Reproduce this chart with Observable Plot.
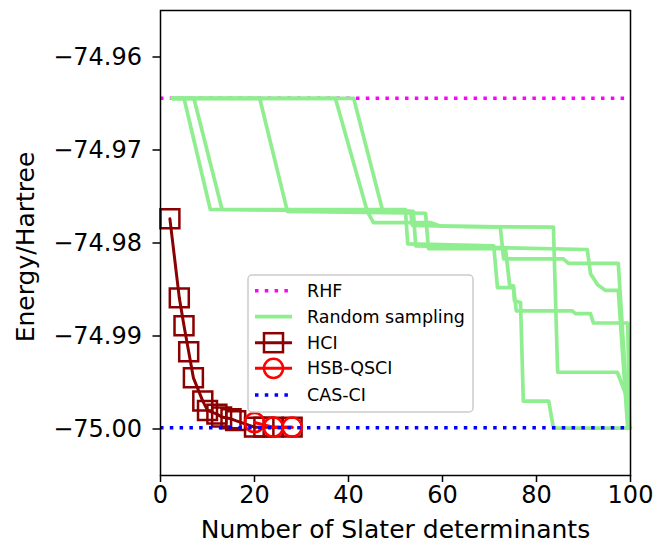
<!DOCTYPE html>
<html><head><meta charset="utf-8">
<script src="https://cdn.jsdelivr.net/npm/d3@7"></script>
<script src="https://cdn.jsdelivr.net/npm/@observablehq/plot@0.6"></script>
<style>
html,body{margin:0;padding:0;background:#fff;}
#chart svg{font-family:"DejaVu Sans",sans-serif;display:block;}
</style></head><body><div id="chart"></div>
<script>
// Reference energies
const RHF = -74.96444;
const CASCI = -74.99986;

// HCI
const hciX = [2, 4, 5, 6, 7, 9, 10, 12, 13, 15, 16, 20, 22, 24, 28];
const hciY = [-74.9774, -74.9859, -74.9889, -74.9917, -74.9945, -74.9970, -74.9980, -74.9984, -74.9987, -74.9989, -74.9991, -74.9998, -74.9998, -74.9998, -74.9998];

// HSB-QSCI
const qsciX = [20, 24, 28];
const qsciY = [-74.9993, -74.9998, -74.9998];

// Random sampling runs
const rs1X = [2.5, 5, 10.6, 52.1, 52.6, 70.9, 71.7, 75.1, 75.3, 76.6, 77.2, 82.6, 83.6, 100];
const rs1Y = [RHF, RHF, -74.9764, -74.9764, -74.9801, -74.9803, -74.9848, -74.9848, -74.9862, -74.9864, -74.9970, -74.9970, -74.9999, -74.9999];
const rs2X = [2.5, 7.1, 13.1, 53.8, 54.3, 90.8, 91.5, 93.0, 94.7, 97.4, 99.4];
const rs2Y = [RHF, RHF, -74.9764, -74.9766, -74.9803, -74.9807, -74.9833, -74.9845, -74.9851, -74.9851, -74.9999];
const rs3X = [2.5, 21.1, 27.0, 56.4, 57.0, 73.4, 74.3, 75.1, 75.7, 87.6, 88.3, 91.5, 92.1, 99.4, 99.8];
const rs3Y = [RHF, RHF, -74.9766, -74.9768, -74.9806, -74.9806, -74.9846, -74.9846, -74.9873, -74.9873, -74.9876, -74.9876, -74.9886, -74.9886, -74.9999];
const rs4X = [2.5, 37.2, 44.0, 45.3, 57.4, 59.6, 83.6, 84.5, 97.2, 99.4, 99.8];
const rs4Y = [RHF, RHF, -74.9766, -74.9778, -74.9778, -74.9782, -74.9783, -74.9939, -74.9939, -74.9968, -74.9999];
const rs5X = [2.5, 41.1, 47.2, 53.2, 53.6, 72.3, 73.0, 85.7, 86.8, 97.4, 99.6];
const rs5Y = [RHF, RHF, -74.9764, -74.9766, -74.9781, -74.9783, -74.9817, -74.9817, -74.9822, -74.9822, -74.9999];

// Axes
const xTicks = [0, 20, 40, 60, 80, 100];
const yTicks = [-75.00, -74.99, -74.98, -74.97, -74.96];
const xLabel = "Number of Slater determinants";
const yLabel = "Energy/Hartree";
const legendNames = ["RHF", "Random sampling", "HCI", "HSB-QSCI", "CAS-CI"];

const zip = (xs, ys) => xs.map((x, i) => ({x, y: ys[i]}));
const runs = [[rs1X, rs1Y], [rs2X, rs2Y], [rs3X, rs3Y], [rs4X, rs4Y], [rs5X, rs5Y]];
const rsData = runs.flatMap(([xs, ys], k) => zip(xs, ys).map(d => ({...d, run: k})));
const hci = zip(hciX, hciY);
const qsci = zip(qsciX, qsciY);

const GREEN = "#90ee90", DARKRED = "#8b0000", RED = "#ff0000", MAGENTA = "#ff00ff", BLUE = "#0000ff";

const plot = Plot.plot({
  width: 658, height: 550,
  marginLeft: 160, marginRight: 28, marginTop: 10, marginBottom: 75,
  style: {fontFamily: "DejaVu Sans", color: "black", background: "white", overflow: "visible"},
  x: {domain: [0, 100]},
  y: {domain: [-75.005, -74.955]},
  marks: [
    Plot.ruleY([RHF], {stroke: MAGENTA, strokeWidth: 3.5, strokeDasharray: "3.5,6.3"}),
    Plot.line(rsData, {x: "x", y: "y", z: "run", stroke: GREEN, strokeWidth: 3.7}),
    Plot.line(hci, {x: "x", y: "y", stroke: DARKRED, strokeWidth: 3}),
    Plot.dot(hci, {x: "x", y: "y", symbol: "square", r: 10.7, stroke: DARKRED, strokeWidth: 2.5, fill: "none"}),
    Plot.line(qsci, {x: "x", y: "y", stroke: RED, strokeWidth: 3}),
    Plot.dot(qsci, {x: "x", y: "y", symbol: "circle", r: 9.6, stroke: RED, strokeWidth: 2.5, fill: "none"}),
    Plot.ruleY([CASCI], {stroke: BLUE, strokeWidth: 3.5, strokeDasharray: "3.5,6.3"}),
    Plot.frame({stroke: "black", strokeWidth: 1.5}),
    Plot.axisX({ticks: xTicks, tickSize: 7, tickPadding: 3, fontSize: 24, label: null, stroke: "black", strokeWidth: 1.5, fill: "black"}),
    Plot.axisY({ticks: yTicks, tickSize: 7.5, tickPadding: 11, fontSize: 24, label: null, stroke: "black", strokeWidth: 1.5, fill: "black", tickFormat: d3.format(".2f")}),
    Plot.text([xLabel], {text: d => d, frameAnchor: "bottom", textAnchor: "middle", lineAnchor: "middle", dy: 54, fontSize: 25, fill: "black"}),
    Plot.text([yLabel], {text: d => d, frameAnchor: "left", textAnchor: "middle", lineAnchor: "middle", dx: -135, dy: 4, rotate: -90, fontSize: 25, fill: "black"})
  ]
});
document.getElementById("chart").appendChild(plot);

// Legend
const svg = d3.select(plot);
const lg = svg.append("g").attr("font-family", "DejaVu Sans").attr("font-size", 17.5).attr("text-anchor", "start");
lg.append("rect").attr("x", 248).attr("y", 275).attr("width", 225).attr("height", 137)
  .attr("rx", 4).attr("fill", "white").attr("fill-opacity", 0.8)
  .attr("stroke", "#cccccc").attr("stroke-width", 1.5);
const rowY = [290.7, 316.7, 342.7, 368.3, 395];
const hx1 = 255, hx2 = 292, hxc = (hx1 + hx2) / 2, tx = 307;
const styles = [
  {stroke: MAGENTA, dash: "3.5,6.3", w: 3.5},
  {stroke: GREEN, dash: null, w: 3.7},
  {stroke: DARKRED, dash: null, w: 3, marker: "square"},
  {stroke: RED, dash: null, w: 3, marker: "circle"},
  {stroke: BLUE, dash: "3.5,6.3", w: 3.5}
];
legendNames.forEach((name, i) => {
  const s = styles[i], y = rowY[i];
  const ln = lg.append("line").attr("x1", hx1).attr("x2", hx2).attr("y1", y).attr("y2", y)
    .attr("stroke", s.stroke).attr("stroke-width", s.w);
  if (s.dash) ln.attr("stroke-dasharray", s.dash);
  if (s.marker === "square") {
    lg.append("rect").attr("x", hxc - 9.5).attr("y", y - 9.5).attr("width", 19).attr("height", 19)
      .attr("fill", "none").attr("stroke", s.stroke).attr("stroke-width", 2.5);
  } else if (s.marker === "circle") {
    lg.append("circle").attr("cx", hxc).attr("cy", y).attr("r", 9.6)
      .attr("fill", "none").attr("stroke", s.stroke).attr("stroke-width", 2.5);
  }
  lg.append("text").attr("x", tx).attr("y", y).attr("dy", "0.35em").attr("text-anchor", "start")
    .attr("fill", "black").text(name);
});
</script></body></html>
